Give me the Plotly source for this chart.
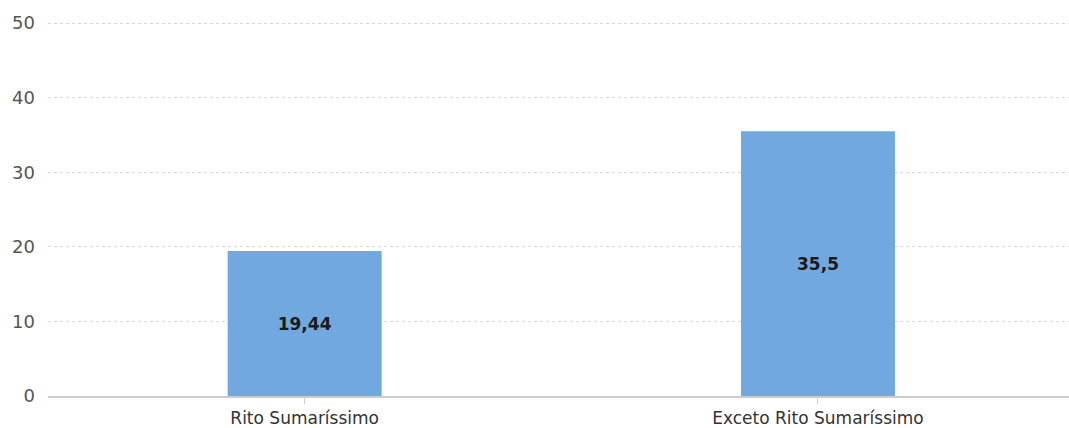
import plotly.graph_objects as go

categories = ["Rito Sumaríssimo", "Exceto Rito Sumaríssimo"]
values = [19.44, 35.5]
value_labels = ["19,44", "35,5"]
y_ticks = [0, 10, 20, 30, 40, 50]

fig = go.Figure()
fig.add_trace(go.Bar(
    x=[0, 1],
    y=values,
    width=0.3,
    marker=dict(color="#71A8E0", line=dict(width=0)),
    text=value_labels,
    textposition="inside",
    insidetextanchor="middle",
    textfont=dict(family="DejaVu Sans", size=17, color="#1a1a1a", weight="bold"),
    hoverinfo="skip",
))

fig.update_layout(
    width=1069, height=428,
    margin=dict(l=48, r=0, t=22, b=30),
    paper_bgcolor="white", plot_bgcolor="white",
    showlegend=False,
    font=dict(family="DejaVu Sans", color="#444"),
    xaxis=dict(
        range=[-0.5, 1.489],
        tickmode="array", tickvals=[0, 1], ticktext=categories,
        tickfont=dict(size=17, color="#333"),
        showgrid=False, zeroline=False,
        showline=True, linecolor="#cccccc", linewidth=2,
        ticks="outside", tickson="boundaries", ticklen=6, tickcolor="#cccccc",
    ),
    yaxis=dict(
        range=[0, 50.15],
        tickvals=y_ticks,
        tickfont=dict(size=18, color="#555"),
        showgrid=True, gridcolor="#d6d6d6", griddash="dot", gridwidth=1,
        zeroline=False, showline=False,
        ticks="", ticklabelstandoff=12,
    ),
)

fig.write_html("out.html")
